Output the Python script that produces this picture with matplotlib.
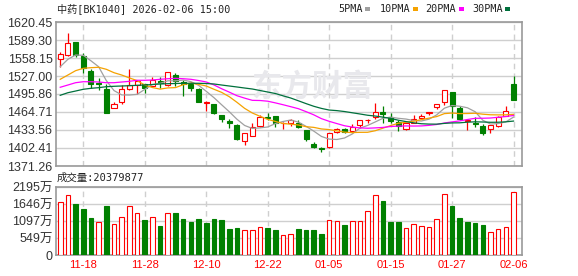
import matplotlib
matplotlib.use('Agg')
import matplotlib.pyplot as plt
from matplotlib.patches import Rectangle

dates = ['11-13','11-14','11-17','11-18','11-19','11-20','11-21','11-24','11-25','11-26',
         '11-27','11-28','12-01','12-02','12-03','12-04','12-05','12-08','12-09','12-10',
         '12-11','12-12','12-15','12-16','12-17','12-18','12-19','12-22','12-23','12-24',
         '12-25','12-26','12-29','12-30','12-31','01-05','01-06','01-07','01-08','01-09',
         '01-12','01-13','01-14','01-15','01-16','01-19','01-20','01-21','01-22','01-23',
         '01-26','01-27','01-28','01-29','01-30','02-02','02-03','02-04','02-05','02-06']

opens = [1556.9, 1562.8, 1585.8, 1561.6, 1535.6, 1515.5, 1504.5, 1471.1, 1482.5, 1504.0,
         1511.4, 1512.6, 1509.7, 1519.0, 1511.4, 1528.7, 1516.6, 1513.1, 1504.5, 1480.5,
         1478.6, 1459.5, 1449.0, 1442.2, 1415.0, 1423.7, 1440.5, 1456.0, 1457.8, 1445.0,
         1445.2, 1446.2, 1433.5, 1409.3, 1403.0, 1404.7, 1430.6, 1435.8, 1431.8, 1442.7,
         1450.4, 1456.6, 1464.0, 1456.6, 1448.0, 1434.7, 1446.2, 1454.9, 1462.5, 1472.8,
         1482.5, 1499.3, 1471.1, 1449.5, 1446.2, 1440.5, 1434.7, 1440.5, 1458.3, 1513.2]
highs = [1568.5, 1600.9, 1586.5, 1567.3, 1538.6, 1523.0, 1513.1, 1482.5, 1511.4, 1538.6,
         1518.9, 1513.0, 1524.7, 1525.8, 1534.0, 1532.7, 1520.0, 1517.2, 1506.0, 1483.7,
         1479.0, 1459.5, 1452.0, 1443.9, 1428.0, 1446.2, 1459.5, 1462.5, 1458.0, 1447.2,
         1453.0, 1450.9, 1434.0, 1413.3, 1404.7, 1428.7, 1436.5, 1437.6, 1443.9, 1451.0,
         1452.0, 1479.8, 1475.1, 1462.5, 1450.9, 1446.0, 1459.5, 1461.4, 1465.5, 1478.3,
         1503.0, 1499.5, 1475.0, 1453.1, 1456.6, 1443.9, 1442.5, 1457.0, 1475.1, 1527.0]
lows = [1543.1, 1562.0, 1559.4, 1532.7, 1505.7, 1503.0, 1463.0, 1471.0, 1478.6, 1503.5,
        1495.9, 1497.1, 1508.5, 1505.7, 1510.0, 1510.2, 1492.4, 1501.6, 1482.0, 1467.0,
        1461.3, 1448.0, 1437.6, 1417.0, 1407.6, 1423.0, 1438.2, 1450.8, 1439.3, 1435.8,
        1441.0, 1437.0, 1415.0, 1401.9, 1395.0, 1402.4, 1428.8, 1428.0, 1428.0, 1436.5,
        1445.2, 1452.1, 1446.2, 1446.2, 1432.3, 1433.0, 1445.2, 1452.0, 1459.5, 1469.4,
        1476.8, 1453.8, 1450.9, 1433.5, 1438.2, 1425.0, 1429.0, 1438.2, 1458.0, 1485.0]
closes = [1565.1, 1583.6, 1563.9, 1541.4, 1512.6, 1513.5, 1463.5, 1478.0, 1504.0, 1511.4,
          1518.9, 1506.8, 1520.1, 1514.5, 1533.4, 1518.3, 1513.5, 1506.8, 1482.5, 1481.8,
          1463.5, 1452.1, 1446.0, 1417.5, 1427.8, 1438.2, 1456.6, 1454.0, 1446.2, 1446.5,
          1450.9, 1438.2, 1417.5, 1404.7, 1400.7, 1427.8, 1434.7, 1430.6, 1439.3, 1450.9,
          1451.5, 1465.2, 1462.0, 1449.6, 1440.5, 1445.2, 1452.1, 1458.3, 1465.2, 1478.0,
          1502.8, 1475.1, 1452.6, 1451.5, 1444.0, 1429.0, 1442.2, 1456.6, 1466.4, 1485.5]
volumes = [1702, 1928, 1647, 1486, 1195, 1056, 1583, 991, 1218, 1573,
           1347, 1130, 1218, 937, 1347, 1357, 1163, 1066, 1163, 1034,
           1163, 1130, 840, 872, 797, 797, 904, 872, 808, 636,
           668, 840, 808, 808, 679, 1120, 1088, 969, 1088, 1088,
           1411, 1928, 1744, 1066, 1066, 861, 991, 926, 894, 1152,
           1960, 1583, 1195, 1066, 1034, 969, 733, 830, 894, 2038]

ma5 = [1543.1, 1555.9, 1563.3, 1562.8, 1553.3, 1543.0, 1519.0, 1501.8, 1494.3, 1494.1,
       1495.2, 1503.8, 1512.2, 1514.3, 1518.7, 1518.6, 1520.0, 1517.3, 1510.9, 1500.6,
       1489.6, 1477.3, 1465.2, 1452.2, 1441.4, 1436.3, 1437.2, 1438.8, 1444.6, 1448.3,
       1450.8, 1447.2, 1439.9, 1431.6, 1422.4, 1417.8, 1417.1, 1419.7, 1426.6, 1436.7,
       1441.4, 1447.5, 1453.8, 1455.8, 1453.8, 1452.5, 1449.9, 1449.1, 1452.3, 1459.8,
       1471.3, 1475.9, 1474.7, 1472.0, 1465.2, 1450.4, 1443.9, 1444.7, 1447.6, 1455.9]
ma10 = [1521.3, 1528.7, 1536.2, 1540.3, 1541.4, 1542.1, 1538.6, 1532.7, 1528.7, 1523.7,
        1519.1, 1511.4, 1507.0, 1504.3, 1506.4, 1506.9, 1511.9, 1514.8, 1512.6, 1509.7,
        1504.1, 1498.7, 1491.2, 1481.5, 1471.0, 1463.0, 1457.3, 1452.0, 1448.4, 1444.8,
        1443.6, 1442.2, 1439.3, 1438.1, 1435.4, 1434.3, 1432.1, 1429.8, 1429.1, 1429.5,
        1429.6, 1432.3, 1436.7, 1441.2, 1445.2, 1447.0, 1448.7, 1451.5, 1454.1, 1456.8,
        1461.9, 1462.9, 1461.9, 1462.1, 1462.5, 1460.9, 1459.9, 1459.7, 1459.8, 1460.6]
ma20 = [1507.5, 1511.4, 1515.4, 1517.1, 1517.1, 1516.6, 1515.4, 1515.4, 1516.6, 1517.8,
        1519.6, 1519.6, 1520.1, 1521.3, 1522.3, 1523.0, 1522.3, 1521.3, 1519.2, 1516.7,
        1511.6, 1505.0, 1499.1, 1492.9, 1488.7, 1484.9, 1484.6, 1483.4, 1480.5, 1477.3,
        1473.9, 1470.4, 1465.3, 1459.8, 1453.2, 1448.6, 1444.7, 1440.9, 1438.7, 1437.2,
        1436.6, 1437.2, 1438.0, 1439.6, 1440.3, 1440.6, 1440.4, 1440.6, 1441.6, 1443.1,
        1445.7, 1447.6, 1449.3, 1451.7, 1453.8, 1453.9, 1454.3, 1455.6, 1456.9, 1458.7]
ma30 = [1493.6, 1498.1, 1501.0, 1504.0, 1505.7, 1506.8, 1508.5, 1509.2, 1509.7, 1510.2,
        1510.9, 1511.4, 1512.3, 1513.2, 1513.7, 1514.0, 1514.4, 1514.4, 1514.4, 1514.0,
        1513.2, 1511.4, 1509.7, 1508.0, 1506.2, 1504.5, 1501.9, 1499.3, 1496.7, 1492.7,
        1488.9, 1484.1, 1479.2, 1474.6, 1470.9, 1468.1, 1467.1, 1465.5, 1463.4, 1461.3,
        1459.1, 1457.7, 1455.8, 1453.6, 1450.5, 1448.1, 1446.0, 1444.4, 1443.8, 1443.7,
        1445.0, 1445.8, 1446.0, 1447.1, 1447.7, 1447.4, 1446.9, 1447.0, 1447.7, 1449.0]

price_ticks = [1371.26, 1402.41, 1433.56, 1464.71, 1495.86, 1527.00, 1558.15, 1589.30, 1620.45]
price_labels = ['1371.26', '1402.41', '1433.56', '1464.71', '1495.86', '1527.00', '1558.15', '1589.30', '1620.45']
vol_ticks = [0, 548.75, 1097.5, 1646.25, 2195]
vol_labels = ['0', '549万', '1097万', '1646万', '2195万']
date_labels = ['11-18', '11-28', '12-10', '12-22', '01-05', '01-15', '01-27', '02-06']
title = '中药[BK1040] 2026-02-06 15:00'
vol_title = '成交量:20379877'
ma_names = ['5PMA', '10PMA', '20PMA', '30PMA']
watermark = '东方财富'

RED = '#ff0000'
GREEN = '#008000'
MA_COLORS = ['#a0a0a0', '#f5a200', '#ff00ff', '#00703c']
GRID = '#cfcfcf'
SPINE = '#999999'

plt.rcParams['font.family'] = ['Liberation Sans', 'Noto Sans CJK SC']
MONO = ['DejaVu Sans Mono', 'Noto Sans CJK SC']

W, H = 578, 276
fig = plt.figure(figsize=(W / 100, H / 100), dpi=100)
ax = fig.add_axes([56 / W, 1 - 166 / H, 466 / W, 144 / H])
ax2 = fig.add_axes([56 / W, 1 - 255 / H, 466 / W, 68 / H])

n = len(closes)
xs = list(range(n))
bw = 0.66
vw = 0.6
date_pos = [dates.index(d) for d in date_labels]

for a in (ax, ax2):
    a.set_xlim(-0.55, n + 0.1)
    a.set_xticks(date_pos)
    a.set_axisbelow(True)
    a.xaxis.grid(True, color=GRID, lw=1, ls=(0, (4, 3)))
    a.yaxis.grid(True, color=GRID, lw=1, ls='-')
    for s in a.spines.values():
        s.set_color(SPINE)
        s.set_linewidth(1.2)
    a.tick_params(length=0)

# candles
for i in xs:
    o, h, l, c = opens[i], highs[i], lows[i], closes[i]
    up = c >= o
    col = RED if up else GREEN
    ax.vlines(i, l, h, colors=col, lw=0.9, zorder=2)
    ax.add_patch(Rectangle((i - bw / 2, min(o, c)), bw, max(abs(c - o), 0.6),
                           facecolor='white' if up else col, edgecolor=col,
                           lw=0.8, zorder=3))

for vals, colr in zip([ma5, ma10, ma20, ma30], MA_COLORS):
    ax.plot(xs, vals, color=colr, lw=0.9, zorder=4)

ax.set_ylim(price_ticks[0], price_ticks[-1])
ax.set_yticks(price_ticks)
ax.set_yticklabels(price_labels)
ax.tick_params(axis='y', labelsize=9, labelcolor='#333333', pad=2.5)
ax.tick_params(axis='x', labelbottom=False)

ax.text(312 / W, 1 - 87 / H, watermark, transform=fig.transFigure, fontsize=22,
        color='#e8e8ec', fontweight='bold', ha='center', va='center', zorder=1,
        family=['Noto Sans CJK SC'])

# volume
for i in xs:
    prev = closes[i - 1] if i > 0 else opens[i]
    up = closes[i] >= prev
    col = RED if up else GREEN
    ax2.bar(i, volumes[i], width=vw, facecolor='white' if up else col,
            edgecolor=col, lw=0.8, zorder=3)

ax2.set_ylim(0, vol_ticks[-1])
ax2.set_yticks(vol_ticks)
ax2.set_yticklabels(vol_labels)
ax2.tick_params(axis='y', labelsize=9, labelcolor='#333333', pad=2.5)
ax2.set_xticklabels(date_labels)
ax2.tick_params(axis='x', labelsize=8, labelcolor=RED, pad=3.5)

# texts
fig.text(57 / W, 1 - 8.5 / H, title, family=MONO, fontsize=7.3, color='#222222',
         ha='left', va='center')
fig.text(57 / W, 1 - 178 / H, vol_title, family=MONO, fontsize=7.5, color='#222222',
         ha='left', va='center')

leg_x = [338, 380, 425, 472]
sq_x = [365, 413, 459, 505]
for name, lx, sx, colr in zip(ma_names, leg_x, sq_x, MA_COLORS):
    fig.text(lx / W, 1 - 8.5 / H, name, family=MONO, fontsize=7.3, color='#222222',
             ha='left', va='center')
    fig.add_artist(Rectangle((sx / W, 1 - 11 / H), 5 / W, 4 / H, transform=fig.transFigure,
                             facecolor=colr, edgecolor='none'))

fig.savefig('out.png', dpi=100)
